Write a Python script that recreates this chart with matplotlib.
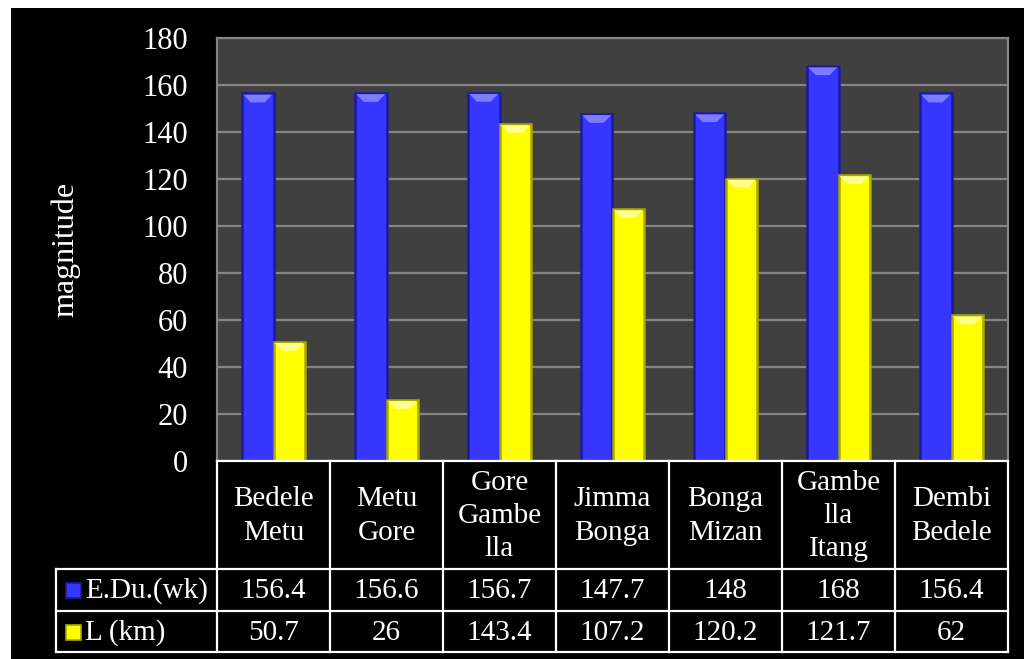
import matplotlib.pyplot as plt
import numpy as np
from matplotlib.patches import Rectangle, Polygon

plt.rcParams['font.family'] = ['Liberation Serif', 'DejaVu Serif']

# data
routes = ['Bedele\nMetu', 'Metu\nGore', 'Gore\nGambe\nlla', 'Jimma\nBonga',
          'Bonga\nMizan', 'Gambe\nlla\nItang', 'Dembi\nBedele']
edu_wk = [156.4, 156.6, 156.7, 147.7, 148, 168, 156.4]
l_km = [50.7, 26, 143.4, 107.2, 120.2, 121.7, 62]
series_names = ['E.Du.(wk)', 'L (km)']
yticks = [0, 20, 40, 60, 80, 100, 120, 140, 160, 180]

W, H = 1024, 659
fig = plt.figure(figsize=(W / 100, H / 100), dpi=100)
fig.patch.set_facecolor('white')
# black slide background
bg = fig.add_axes([11 / W, 0, 1 - 11 / W, 1 - 8 / H])
bg.set_facecolor('black')
bg.set_xticks([])
bg.set_yticks([])
for s in bg.spines.values():
    s.set_visible(False)
bg.set_zorder(-5)

# plot area in pixels
pl, pr, pt, pb = 217, 1008, 38, 461
ax = fig.add_axes([pl / W, 1 - pb / H, (pr - pl) / W, (pb - pt) / H])
ax.set_facecolor('#404040')
ax.set_ylim(0, 180)
ax.set_xlim(-0.5, 6.5)
ax.set_yticks(yticks)
ax.set_xticks([])
ax.yaxis.grid(True, color='#858585', lw=1.6)
ax.set_axisbelow(True)
ax.tick_params(axis='y', length=0, colors='white', labelsize=22, pad=21)
for s in ['top', 'right', 'left']:
    ax.spines[s].set_color('#858585')
    ax.spines[s].set_linewidth(1.6)
ax.spines['bottom'].set_visible(False)
ax.set_ylabel('magnitude', color='white', fontsize=23)
ax.yaxis.set_label_coords((80 - pl) / (pr - pl), 0.5)

x = np.arange(len(routes))
bw = 0.28
styles = [('#3636ff', '#1a1aa0', '#7c7cff'), ('#ffff00', '#a8a800', '#ffff8c')]
for k, vals in enumerate([edu_wk, l_km]):
    face, edge, top = styles[k]
    bars = ax.bar(x + (k - 0.5) * bw, vals, bw, color=face, edgecolor=edge, lw=1.8, zorder=3)
    for b in bars:
        bx, bwid, bh = b.get_x(), b.get_width(), b.get_height()
        d = 3.8
        ax.add_patch(Polygon([(bx + 0.04 * bwid, bh - 0.5), (bx + 0.96 * bwid, bh - 0.5),
                              (bx + 0.72 * bwid, bh - d), (bx + 0.28 * bwid, bh - d)],
                             closed=True, color=top, lw=0, zorder=4))

# data table
tab = fig.add_axes([0, 0, 1, 1])
tab.set_xlim(0, W)
tab.set_ylim(H, 0)
tab.axis('off')
tab.patch.set_alpha(0)
tab.set_zorder(5)
cw = (pr - pl) / len(routes)
rows = [461, 569, 611, 652]
lx = 56
lc = dict(color='white', lw=1.6)
tab.plot([pl, pr], [rows[0], rows[0]], **lc)
for r in rows[1:]:
    tab.plot([lx, pr], [r, r], **lc)
for i in range(len(routes) + 1):
    tab.plot([pl + i * cw, pl + i * cw], [rows[0], rows[3]], **lc)
tab.plot([lx, lx], [rows[1], rows[3]], **lc)

fs = 21
for i, name in enumerate(routes):
    cx = pl + (i + 0.5) * cw
    tab.text(cx, (rows[0] + rows[1]) / 2 + 1, name, color='white', fontsize=fs,
             ha='center', va='center', linespacing=1.35)
    tab.text(cx, (rows[1] + rows[2]) / 2 + 1, f'{edu_wk[i]:g}', color='white',
             fontsize=fs, ha='center', va='center')
    tab.text(cx, (rows[2] + rows[3]) / 2 + 1, f'{l_km[i]:g}', color='white',
             fontsize=fs, ha='center', va='center')

for k, nm in enumerate(series_names):
    cy = (rows[k + 1] + rows[k + 2]) / 2
    face, edge, top = styles[k]
    tab.add_patch(Rectangle((66, cy - 7), 15, 15, facecolor=face, edgecolor=edge, lw=1.2))
    tab.text(85, cy + 1, nm, color='white', fontsize=fs, ha='left', va='center')

plt.savefig('out.png', dpi=100, facecolor=fig.get_facecolor())
plt.close()
